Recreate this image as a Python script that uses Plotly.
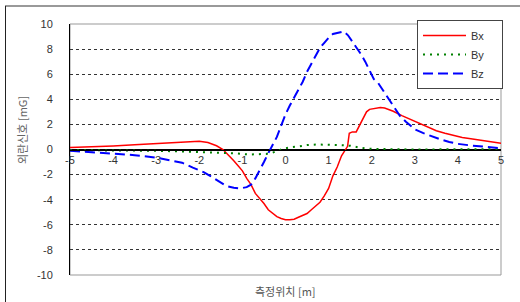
import plotly.graph_objects as go

bx_x = [-5, -4.5, -4, -3.5, -3, -2.5, -2.2, -2, -1.8, -1.6, -1.45, -1.3, -1.2, -1.1, -1.0, -0.9, -0.8, -0.7, -0.6, -0.5,
        -0.4, -0.3, -0.2, -0.1, 0, 0.1, 0.2, 0.3, 0.4, 0.5, 0.6, 0.7, 0.8, 0.9, 1.0, 1.1, 1.2, 1.3, 1.38, 1.44,
        1.48, 1.55, 1.64, 1.72, 1.8, 1.88, 1.95, 2.05, 2.2, 2.3, 2.4, 2.5, 2.7, 2.9, 3.1, 3.3, 3.5, 3.7, 3.9, 4.1,
        4.3, 4.5, 4.7, 5.0]
bx_y = [0.15, 0.2, 0.28, 0.38, 0.48, 0.6, 0.66, 0.65, 0.55, 0.3, 0.0, -0.5, -0.9, -1.3, -1.7, -2.3, -2.8, -3.5, -3.9, -4.3,
        -4.8, -5.1, -5.35, -5.5, -5.6, -5.6, -5.55, -5.4, -5.25, -5.1, -4.8, -4.5, -4.2, -3.7, -3.1, -2.1, -1.4, -0.5, -0.1, 0.25,
        1.3, 1.4, 1.4, 1.9, 2.4, 3.0, 3.2, 3.25, 3.35, 3.3, 3.2, 3.05, 2.7, 2.4, 2.1, 1.75, 1.5, 1.3, 1.1, 0.95,
        0.85, 0.75, 0.65, 0.5]

by_x = [-5, -4, -3, -2.5, -2, -1.75, -1.5, -1.2, -0.85, -0.6, -0.45, -0.3, -0.2, -0.1, 0, 0.15, 0.33, 0.5, 0.72, 1.0,
        1.25, 1.5, 1.72, 2.0, 2.5, 3, 4, 5]
by_y = [-0.05, -0.05, -0.1, -0.15, -0.2, -0.2, -0.25, -0.3, -0.4, -0.4, -0.35, -0.25, -0.1, 0.0, 0.1, 0.2, 0.25, 0.35, 0.4, 0.4,
        0.35, 0.3, 0.15, 0.05, 0.0, 0.0, 0.02, 0.03]

bz_x = [-5, -4.5, -4, -3.5, -3, -2.7, -2.4, -2.15, -1.9, -1.75, -1.55, -1.38, -1.2, -1.05, -0.9, -0.8, -0.7, -0.6, -0.5, -0.4,
        -0.3, -0.2, -0.1, 0, 0.1, 0.2, 0.3, 0.4, 0.5, 0.6, 0.7, 0.8, 0.9, 1.0, 1.1, 1.2, 1.35, 1.45, 1.55, 1.65,
        1.75, 1.85, 1.95, 2.05, 2.15, 2.25, 2.35, 2.45, 2.55, 2.65, 2.8, 3.0, 3.2, 3.4, 3.6, 3.8, 4.0, 4.3, 4.6, 5.0]
bz_y = [-0.1, -0.2, -0.3, -0.45, -0.65, -0.85, -1.05, -1.45, -1.8, -2.1, -2.5, -2.9, -3.05, -3.1, -3.0, -2.8, -2.3, -1.7, -1.0, -0.3,
        0.35, 1.0, 1.9, 2.8, 3.5, 4.1, 4.8, 5.4, 6.2, 6.8, 7.5, 8.1, 8.5, 8.9, 9.2, 9.3, 9.4, 9.1, 8.6, 8.2,
        7.6, 7.0, 6.3, 5.6, 5.3, 4.8, 4.3, 3.7, 3.2, 2.7, 2.2, 1.6, 1.3, 1.04, 0.8, 0.6, 0.45, 0.32, 0.22, 0.1]

x_ticks = [-5, -4, -3, -2, -1, 0, 1, 2, 3, 4, 5]
y_ticks = [-10, -8, -6, -4, -2, 0, 2, 4, 6, 8, 10]

series_names = ["Bx", "By", "Bz"]
x_title = "측정위치 [m]"
y_title = "외란신호 [mG]"

W, H = 520, 302
L, R, T, B = 70, 19, 24, 27
pw, ph = W - L - R, H - T - B


def px(x):
    return (x - L) / pw


def py(y):
    return (H - B - y) / ph


pad = "\u00a0" * 4
fig = go.Figure()
fig.add_trace(go.Scatter(x=bx_x, y=bx_y, mode="lines", name=series_names[0] + pad,
                         line=dict(color="#FF0000", width=1.5)))
fig.add_trace(go.Scatter(x=by_x, y=by_y, mode="lines", name=series_names[1] + pad,
                         line=dict(color="#008000", width=2, dash="2px,5px")))
fig.add_trace(go.Scatter(x=bz_x, y=bz_y, mode="lines", name=series_names[2] + pad,
                         line=dict(color="#0000FF", width=2, dash="10px,5px")))

tick_font = dict(family="Liberation Sans, Arial, sans-serif", size=11, color="#333333")

fig.update_layout(
    width=W, height=H,
    margin=dict(l=L, r=R, t=T, b=B, pad=0, autoexpand=False),
    paper_bgcolor="white", plot_bgcolor="white",
    showlegend=True,
    legend=dict(x=px(417), y=py(20), xanchor="left", yanchor="top",
                bgcolor="white", bordercolor="#444444", borderwidth=1,
                font=dict(family="Liberation Sans, Arial, sans-serif", size=11, color="#333333"),
                itemwidth=43),
    xaxis=dict(range=[-5, 5], tickvals=x_ticks, ticktext=[str(v) for v in x_ticks],
               anchor="free", position=0.5, showgrid=False, zeroline=False,
               showline=True, linecolor="black", linewidth=1,
               ticks="", tickfont=tick_font, fixedrange=True),
    yaxis=dict(range=[-10, 10], tickvals=y_ticks, ticktext=[str(v) for v in y_ticks],
               showgrid=True, gridcolor="#333333", griddash="dot", gridwidth=1,
               zeroline=True, zerolinecolor="black", zerolinewidth=1,
               showline=True, linecolor="black", linewidth=1,
               ticks="", ticklabelstandoff=14, tickfont=tick_font, fixedrange=True),
    shapes=[
        dict(type="rect", xref="paper", yref="paper", x0=0, x1=1, y0=0, y1=1,
             line=dict(color="#999999", width=1), layer="below"),
        dict(type="line", xref="paper", yref="paper", x0=px(5), x1=px(521), y0=py(6), y1=py(6),
             line=dict(color="#999999", width=2), layer="above"),
        dict(type="line", xref="paper", yref="paper", x0=px(5.5), x1=px(5.5), y0=py(6), y1=py(303),
             line=dict(color="#222222", width=1), layer="above"),
    ],
    annotations=[
        dict(text=x_title, xref="paper", yref="paper", x=px(285), y=py(291),
             showarrow=False, font=dict(family="Noto Sans CJK KR", size=11, color="#555555"),
             xanchor="center", yanchor="middle"),
        dict(text=y_title, xref="paper", yref="paper", x=px(22), y=py(130),
             showarrow=False, textangle=-90, font=dict(family="Noto Sans CJK KR", size=11, color="#666666"),
             xanchor="center", yanchor="middle"),
    ],
)

fig.write_html("out.html", config={"displayModeBar": False},
               post_script="document.body.style.margin='0';document.body.style.padding='0';")
